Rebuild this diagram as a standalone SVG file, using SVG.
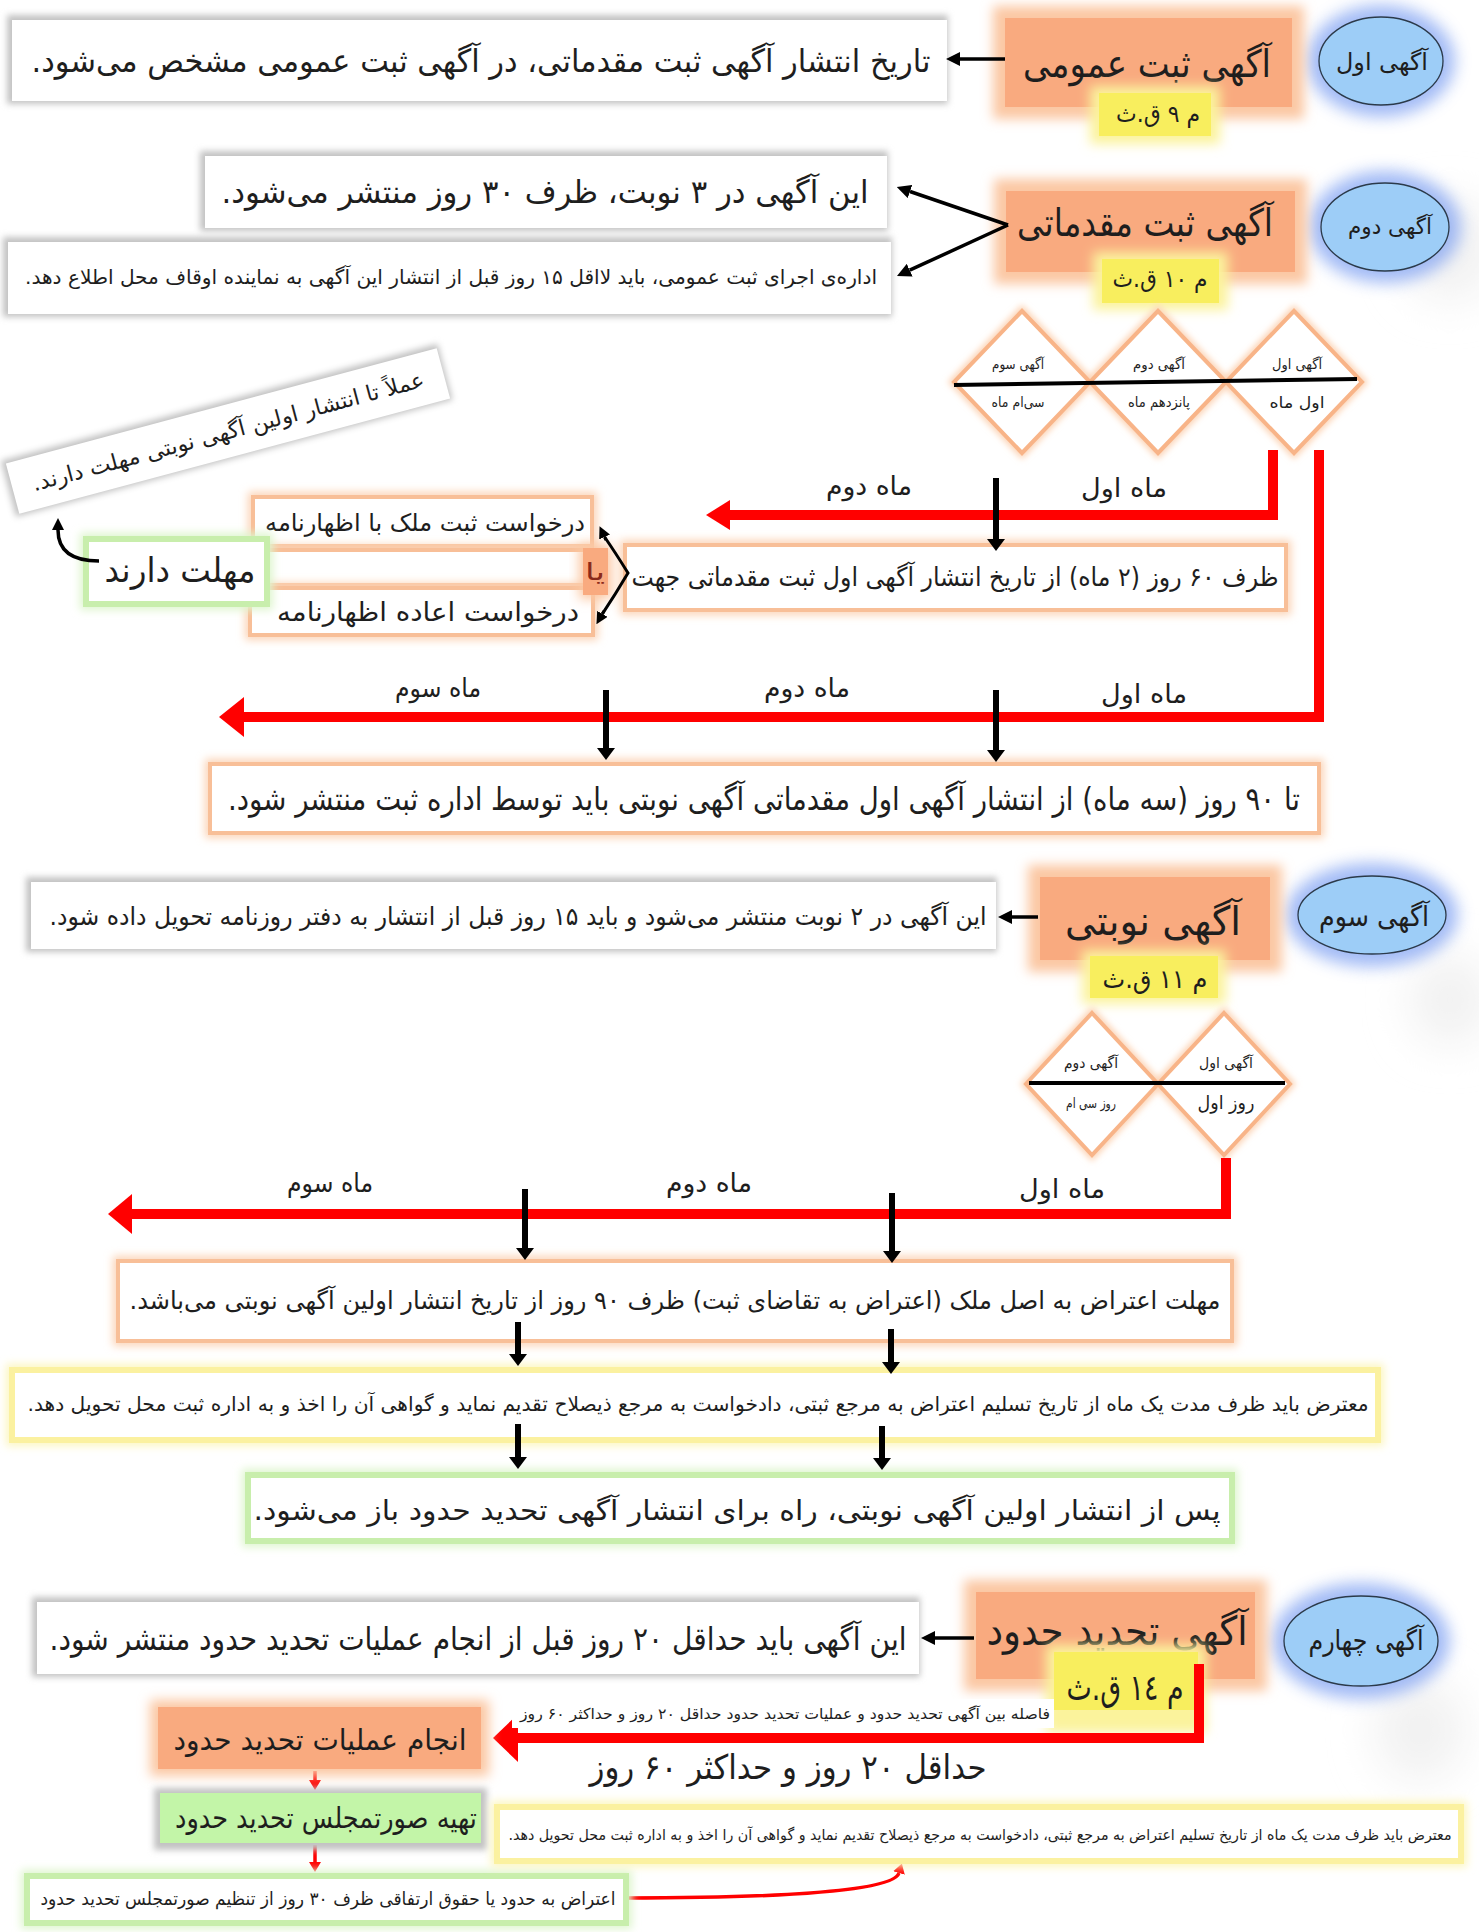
<svg xmlns="http://www.w3.org/2000/svg" width="1479" height="1932" viewBox="0 0 1479 1932">
<defs>
<style>
.t{font-family:"DejaVu Sans",sans-serif;fill:#1e1e1e;text-anchor:middle;direction:rtl;}
.sh{fill:#c2c2c2;filter:url(#b3)}
.wb{fill:#fff}
.ob{fill:#fff;stroke:#f8bf98;stroke-width:4}
.obh{fill:none;stroke:#fbd3b5;stroke-width:10;filter:url(#b4)}
.sal{fill:#f9aa7f}
.salh{fill:#fbc7a3;filter:url(#b6)}
.yl{fill:#f8ee5e}
.ylh{fill:#fbf39c;filter:url(#b6)}
.el{fill:#9dcdf7;stroke:#2b3a4a;stroke-width:1.3}
.elh{fill:#7b9ff2;opacity:.7;filter:url(#b8)}
.yb{fill:#fff;stroke:#fbf1a0;stroke-width:6}
.ybh{fill:none;stroke:#fcf6c0;stroke-width:12;filter:url(#b4)}
.gb{fill:#fff;stroke:#c8eeac;stroke-width:6}
.gbh{fill:none;stroke:#def5cd;stroke-width:12;filter:url(#b4)}
.gf{fill:#c3f5a8}
.red{fill:none;stroke:#ff0000;stroke-width:10;stroke-linejoin:miter}
.rp{fill:#ff0000}
.blk{stroke:#000;stroke-width:3.5;fill:none}
.bk6{stroke:#000;stroke-width:6;fill:none}
.rd3{stroke:#ff0000;stroke-width:3.5;fill:none}
.dm{fill:#fff;stroke:#f8b488;stroke-width:4;stroke-linejoin:miter}
.dmh{fill:none;stroke:#fcd4b6;stroke-width:9;filter:url(#b3)}
.bg{fill:#f1f1f1;filter:url(#b20)}
</style>
<filter id="b3" x="-20%" y="-50%" width="140%" height="200%"><feGaussianBlur stdDeviation="3"/></filter>
<filter id="b4" x="-20%" y="-50%" width="140%" height="200%"><feGaussianBlur stdDeviation="4"/></filter>
<filter id="b6" x="-30%" y="-60%" width="160%" height="220%"><feGaussianBlur stdDeviation="6"/></filter>
<filter id="b8" x="-30%" y="-60%" width="160%" height="220%"><feGaussianBlur stdDeviation="8"/></filter>
<filter id="b20" x="-60%" y="-60%" width="220%" height="220%"><feGaussianBlur stdDeviation="22"/></filter>
<marker id="ab" viewBox="0 0 14 14" refX="0" refY="7" markerWidth="14" markerHeight="14" orient="auto" markerUnits="userSpaceOnUse"><path d="M0,0 L14,7 L0,14 z" fill="#000"/></marker>
<marker id="abs" viewBox="0 0 12 12" refX="0" refY="6" markerWidth="12" markerHeight="12" orient="auto" markerUnits="userSpaceOnUse"><path d="M0,0 L12,6 L0,12 z" fill="#000"/></marker>
<marker id="abd" viewBox="0 0 12 18" refX="0" refY="9" markerWidth="12" markerHeight="18" orient="auto" markerUnits="userSpaceOnUse"><path d="M0,0 L12,9 L0,18 z" fill="#000"/></marker>
<marker id="arr" viewBox="0 0 10 12" refX="0" refY="6" markerWidth="10" markerHeight="12" orient="auto" markerUnits="userSpaceOnUse"><path d="M0,0 L10,6 L0,12 z" fill="#ff0000"/></marker>
</defs>
<rect x="0" y="0" width="1479" height="1932" fill="#fff"/>
<ellipse class="bg" cx="1450" cy="250" rx="45" ry="50"/>
<ellipse class="bg" cx="1450" cy="1000" rx="40" ry="45"/>
<ellipse class="bg" cx="1420" cy="1730" rx="45" ry="50"/>

<!-- Section 1 -->
<g id="n-agahi-aval">
<ellipse class="elh" cx="1381" cy="61" rx="74" ry="56"/>
<ellipse class="el" cx="1381" cy="61" rx="62" ry="44"/>
<text class="t" x="1382" y="70" font-size="24" textLength="92" lengthAdjust="spacingAndGlyphs">آگهی اول</text>
</g>
<g id="n-sabt-omoomi">
<rect class="salh" x="993" y="6" width="311" height="113"/>
<rect class="sal" x="1005" y="18" width="287" height="89"/>
<text class="t" x="1147" y="77" font-size="38" textLength="248" lengthAdjust="spacingAndGlyphs">آگهی ثبت عمومی</text>
</g>
<g id="n-tag-9">
<rect class="ylh" x="1090" y="86" width="130" height="58"/>
<rect class="yl" x="1099" y="93" width="112" height="43"/>
<text class="t" x="1158" y="122" font-size="24" textLength="84" lengthAdjust="spacingAndGlyphs">م ۹ ق.ث</text>
</g>
<g id="n-text-1">
<rect class="sh" x="7" y="15" width="941" height="89"/>
<rect class="wb" x="12" y="20" width="935" height="81"/>
<text class="t" x="481" y="72" font-size="32" textLength="899" lengthAdjust="spacingAndGlyphs">تاریخ انتشار آگهی ثبت مقدماتی، در آگهی ثبت عمومی مشخص می‌شود.</text>
</g>

<!-- Section 2 -->
<g id="n-agahi-dovom">
<ellipse class="elh" cx="1385" cy="227" rx="76" ry="56"/>
<ellipse class="el" cx="1385" cy="227" rx="64" ry="44"/>
<text class="t" x="1390" y="234" font-size="22" textLength="84" lengthAdjust="spacingAndGlyphs">آگهی دوم</text>
</g>
<g id="n-sabt-moghadamati">
<rect class="salh" x="994" y="179" width="313" height="105"/>
<rect class="sal" x="1006" y="191" width="289" height="81"/>
<text class="t" x="1145" y="236" font-size="38" textLength="256" lengthAdjust="spacingAndGlyphs">آگهی ثبت مقدماتی</text>
</g>
<g id="n-tag-10">
<rect class="ylh" x="1093" y="252" width="135" height="58"/>
<rect class="yl" x="1102" y="259" width="117" height="44"/>
<text class="t" x="1160" y="287" font-size="24" textLength="95" lengthAdjust="spacingAndGlyphs">م ۱۰ ق.ث</text>
</g>
<g id="n-text-2a">
<rect class="sh" x="200" y="151" width="688" height="80"/>
<rect class="wb" x="205" y="156" width="682" height="72"/>
<text class="t" x="545" y="203" font-size="32" textLength="647" lengthAdjust="spacingAndGlyphs">این آگهی در ۳ نوبت، ظرف ۳۰ روز منتشر می‌شود.</text>
</g>
<g id="n-text-2b">
<rect class="sh" x="3" y="237" width="889" height="80"/>
<rect class="wb" x="8" y="242" width="883" height="72"/>
<text class="t" x="451" y="284" font-size="20" textLength="852" lengthAdjust="spacingAndGlyphs">اداره‌ی اجرای ثبت عمومی، باید لااقل ۱۵ روز قبل از انتشار این آگهی به نماینده اوقاف محل اطلاع دهد.</text>
</g>

<g id="n-diamonds-1">
<path class="dmh" d="M1294,311 L1362,382 L1294,453 L1226,382 Z M1158,311 L1226,382 L1158,453 L1090,382 Z M1022,311 L1090,382 L1022,453 L954,382 Z"/>
<path class="dm" d="M1294,311 L1362,382 L1294,453 L1226,382 Z"/>
<path class="dm" d="M1158,311 L1226,382 L1158,453 L1090,382 Z"/>
<path class="dm" d="M1022,311 L1090,382 L1022,453 L954,382 Z"/>
<line x1="954" y1="385" x2="1357" y2="379" stroke="#000" stroke-width="4"/>
<text class="t" x="1297" y="369" font-size="14" textLength="50" lengthAdjust="spacingAndGlyphs">آگهی اول</text>
<text class="t" x="1297" y="408" font-size="16" textLength="55" lengthAdjust="spacingAndGlyphs">اول ماه</text>
<text class="t" x="1159" y="369" font-size="14" textLength="52" lengthAdjust="spacingAndGlyphs">آگهی دوم</text>
<text class="t" x="1159" y="407" font-size="14" textLength="62" lengthAdjust="spacingAndGlyphs">پانزدهم ماه</text>
<text class="t" x="1018" y="369" font-size="14" textLength="52" lengthAdjust="spacingAndGlyphs">آگهی سوم</text>
<text class="t" x="1018" y="407" font-size="14" textLength="53" lengthAdjust="spacingAndGlyphs">سی‌ام ماه</text>
</g>

<g id="n-60-rooz">
<rect class="obh" x="625" y="545" width="661" height="65"/>
<rect class="ob" x="625" y="545" width="661" height="65"/>
<text class="t" x="955" y="586" font-size="26" textLength="647" lengthAdjust="spacingAndGlyphs">ظرف ۶۰ روز (۲ ماه) از تاریخ انتشار آگهی اول ثبت مقدماتی جهت</text>
</g>
<g id="n-darkhast-1">
<rect class="obh" x="253" y="497" width="339" height="49"/>
<rect class="ob" x="253" y="497" width="339" height="49"/>
<text class="t" x="425" y="531" font-size="24" textLength="320" lengthAdjust="spacingAndGlyphs">درخواست ثبت ملک با اظهارنامه</text>
</g>
<g id="n-middle-band">
<rect class="obh" x="265" y="550" width="324" height="35"/>
<rect class="ob" x="265" y="550" width="324" height="35"/>
</g>
<g id="n-darkhast-2">
<rect class="obh" x="250" y="588" width="343" height="47"/>
<rect class="ob" x="250" y="588" width="343" height="47"/>
<text class="t" x="428" y="621" font-size="26" textLength="302" lengthAdjust="spacingAndGlyphs">درخواست اعاده اظهارنامه</text>
</g>
<g id="n-ya">
<rect class="salh" x="579" y="544" width="33" height="55"/>
<rect class="sal" x="583" y="548" width="25" height="47"/>
<text class="t" x="595" y="580" font-size="24" style="fill:#8a2a1a" textLength="20" lengthAdjust="spacingAndGlyphs">یا</text>
</g>
<g id="n-mohlat-darand">
<rect class="gbh" x="86" y="539" width="181" height="65"/>
<rect class="gb" x="86" y="539" width="181" height="65"/>
<text class="t" x="180" y="582" font-size="34" textLength="151" lengthAdjust="spacingAndGlyphs">مهلت دارند</text>
</g>
<g id="n-amalan" transform="translate(228 431) rotate(-15)">
<rect class="sh" x="-227" y="-30" width="452" height="58"/>
<rect class="wb" x="-223" y="-26" width="446" height="52"/>
<text class="t" x="0" y="8" font-size="22" textLength="405" lengthAdjust="spacingAndGlyphs">عملاً تا انتشار اولین آگهی نوبتی مهلت دارند.</text>
</g>

<g id="n-90-rooz">
<rect class="obh" x="210" y="764" width="1109" height="69"/>
<rect class="ob" x="210" y="764" width="1109" height="69"/>
<text class="t" x="764" y="810" font-size="32" textLength="1072" lengthAdjust="spacingAndGlyphs">تا ۹۰ روز (سه ماه) از انتشار آگهی اول مقدماتی آگهی نوبتی باید توسط اداره ثبت منتشر شود.</text>
</g>

<!-- Section 3 -->
<g id="n-agahi-sevom">
<ellipse class="elh" cx="1372" cy="915" rx="86" ry="52"/>
<ellipse class="el" cx="1372" cy="915" rx="74" ry="39"/>
<text class="t" x="1374" y="926" font-size="28" textLength="110" lengthAdjust="spacingAndGlyphs">آگهی سوم</text>
</g>
<g id="n-nobati">
<rect class="salh" x="1028" y="865" width="254" height="107"/>
<rect class="sal" x="1040" y="877" width="230" height="83"/>
<text class="t" x="1153" y="935" font-size="40" textLength="176" lengthAdjust="spacingAndGlyphs">آگهی نوبتی</text>
</g>
<g id="n-tag-11">
<rect class="ylh" x="1082" y="950" width="144" height="54"/>
<rect class="yl" x="1090" y="956" width="128" height="42"/>
<text class="t" x="1155" y="988" font-size="26" textLength="105" lengthAdjust="spacingAndGlyphs">م ۱۱ ق.ث</text>
</g>
<g id="n-text-3">
<rect class="sh" x="26" y="877" width="971" height="75"/>
<rect class="wb" x="31" y="882" width="965" height="67"/>
<text class="t" x="518" y="925" font-size="25" textLength="937" lengthAdjust="spacingAndGlyphs">این آگهی در ۲ نوبت منتشر می‌شود و باید ۱۵ روز قبل از انتشار به دفتر روزنامه تحویل داده شود.</text>
</g>
<g id="n-diamonds-2">
<path class="dmh" d="M1224,1013 L1290,1084 L1224,1155 L1158,1084 Z M1092,1013 L1158,1084 L1092,1155 L1026,1084 Z"/>
<path class="dm" d="M1224,1013 L1290,1084 L1224,1155 L1158,1084 Z"/>
<path class="dm" d="M1092,1013 L1158,1084 L1092,1155 L1026,1084 Z"/>
<line x1="1029" y1="1083" x2="1285" y2="1083" stroke="#000" stroke-width="4"/>
<text class="t" x="1226" y="1068" font-size="15" textLength="54" lengthAdjust="spacingAndGlyphs">آگهی اول</text>
<text class="t" x="1226" y="1109" font-size="19" textLength="57" lengthAdjust="spacingAndGlyphs">روز اول</text>
<text class="t" x="1091" y="1068" font-size="15" textLength="54" lengthAdjust="spacingAndGlyphs">آگهی دوم</text>
<text class="t" x="1091" y="1108" font-size="14" textLength="50" lengthAdjust="spacingAndGlyphs">روز سی ام</text>
</g>
<g id="n-mohlat-eteraz">
<rect class="obh" x="118" y="1261" width="1114" height="80"/>
<rect class="ob" x="118" y="1261" width="1114" height="80"/>
<text class="t" x="675" y="1309" font-size="25" textLength="1091" lengthAdjust="spacingAndGlyphs">مهلت اعتراض به اصل ملک (اعتراض به تقاضای ثبت) ظرف ۹۰ روز از تاریخ انتشار اولین آگهی نوبتی می‌باشد.</text>
</g>
<g id="n-moteraz-1">
<rect class="ybh" x="12" y="1370" width="1366" height="70"/>
<rect class="yb" x="12" y="1370" width="1366" height="70"/>
<text class="t" x="698" y="1411" font-size="20" textLength="1341" lengthAdjust="spacingAndGlyphs">معترض باید ظرف مدت یک ماه از تاریخ تسلیم اعتراض به مرجع ثبتی، دادخواست به مرجع ذیصلاح تقدیم نماید و گواهی آن را اخذ و به اداره ثبت محل تحویل دهد.</text>
</g>
<g id="n-pas-az">
<rect class="gbh" x="248" y="1475" width="984" height="66"/>
<rect class="gb" x="248" y="1475" width="984" height="66"/>
<text class="t" x="737" y="1520" font-size="28" textLength="967" lengthAdjust="spacingAndGlyphs">پس از انتشار اولین آگهی نوبتی، راه برای انتشار آگهی تحدید حدود باز می‌شود.</text>
</g>

<!-- Section 4 -->
<g id="n-agahi-chaharom">
<ellipse class="elh" cx="1361" cy="1641" rx="89" ry="58"/>
<ellipse class="el" cx="1361" cy="1641" rx="77" ry="45"/>
<text class="t" x="1366" y="1650" font-size="28" textLength="115" lengthAdjust="spacingAndGlyphs">آگهی چهارم</text>
</g>
<g id="n-tahdid">
<rect class="salh" x="964" y="1580" width="303" height="111"/>
<rect class="sal" x="976" y="1592" width="279" height="87"/>
<text class="t" x="1117" y="1645" font-size="40" textLength="261" lengthAdjust="spacingAndGlyphs">آگهی تحدید حدود</text>
</g>
<g id="n-text-4">
<rect class="sh" x="32" y="1597" width="888" height="80"/>
<rect class="wb" x="37" y="1602" width="882" height="72"/>
<text class="t" x="478" y="1650" font-size="32" textLength="857" lengthAdjust="spacingAndGlyphs">این آگهی باید حداقل ۲۰ روز قبل از انجام عملیات تحدید حدود منتشر شود.</text>
</g>
<g id="n-tag-14">
<rect class="ylh" x="1046" y="1645" width="160" height="88"/>
<rect class="yl" x="1054" y="1652" width="144" height="58"/>
<text class="t" x="1125" y="1700" font-size="36" textLength="117" lengthAdjust="spacingAndGlyphs">م ۱٤ ق.ث</text>
</g>

<g id="connectors">
<line class="blk" x1="1005" y1="59" x2="960" y2="59" marker-end="url(#ab)"/>
<line class="blk" x1="1008" y1="225" x2="910" y2="191.5" marker-end="url(#ab)"/>
<line class="blk" x1="1008" y1="225" x2="909.7" y2="270.2" marker-end="url(#ab)"/>
<path class="red" d="M1273,450 V515 H728"/>
<polygon class="rp" points="706,515 730,500 730,530"/>
<path class="red" d="M1319,450 V717 H240"/>
<polygon class="rp" points="219,717 244,697 244,737"/>
<line class="bk6" x1="996" y1="478" x2="996" y2="539" marker-end="url(#abd)"/>
<line class="bk6" x1="996" y1="690" x2="996" y2="750" marker-end="url(#abd)"/>
<line class="bk6" x1="606" y1="690" x2="606" y2="748" marker-end="url(#abd)"/>
<path class="blk" style="stroke-width:3" d="M604.6,537 Q615,552 628,573 Q615,595 602.4,613.8"/>
<line class="blk" style="stroke-width:3" x1="606" y1="540" x2="604.6" y2="537" marker-end="url(#abs)"/>
<line class="blk" style="stroke-width:3" x1="604" y1="611" x2="602.4" y2="613.8" marker-end="url(#abs)"/>
<path class="blk" d="M99,561 C70,561 58,549 58,530" marker-end="url(#abs)"/>
<line class="blk" x1="1038" y1="917" x2="1012" y2="917" marker-end="url(#ab)"/>
<path class="red" d="M1226,1158 V1214 H128"/>
<polygon class="rp" points="108,1214 132,1194 132,1234"/>
<line class="bk6" x1="892" y1="1193" x2="892" y2="1251" marker-end="url(#abd)"/>
<line class="bk6" x1="525" y1="1189" x2="525" y2="1248" marker-end="url(#abd)"/>
<line class="bk6" x1="518" y1="1322" x2="518" y2="1354" marker-end="url(#abd)"/>
<line class="bk6" x1="891" y1="1329" x2="891" y2="1362" marker-end="url(#abd)"/>
<line class="bk6" x1="518" y1="1424" x2="518" y2="1457" marker-end="url(#abd)"/>
<line class="bk6" x1="882" y1="1426" x2="882" y2="1458" marker-end="url(#abd)"/>
<line class="blk" x1="974" y1="1638" x2="935" y2="1638" marker-end="url(#ab)"/>
<path class="red" d="M1199,1664 V1738 H514"/>
<polygon class="rp" points="493,1738 518,1714 518,1762"/>
<line class="rd3" x1="315" y1="1771" x2="315" y2="1780" marker-end="url(#arr)"/>
<line class="rd3" x1="315" y1="1845" x2="315" y2="1862" marker-end="url(#arr)"/>
<path class="rd3" d="M626,1898 C760,1898 893,1893 899,1873" marker-end="url(#arr)"/>
</g>

<g id="n-fasele-caption">
<rect x="512" y="1699" width="542" height="29" fill="#fff"/>
<text class="t" x="785" y="1719" font-size="15" textLength="530" lengthAdjust="spacingAndGlyphs">فاصله بین آگهی تحدید حدود و عملیات تحدید حدود حداقل ۲۰ روز و حداکثر ۶۰ روز</text>
</g>
<g id="n-hadaghal">
<text class="t" x="788" y="1779" font-size="34" textLength="397" lengthAdjust="spacingAndGlyphs">حداقل ۲۰ روز و حداکثر ۶۰ روز</text>
</g>
<g id="n-anjam-amaliat">
<rect class="salh" x="150" y="1700" width="339" height="76"/>
<rect class="sal" x="158" y="1707" width="323" height="62"/>
<text class="t" x="320" y="1750" font-size="29" textLength="293" lengthAdjust="spacingAndGlyphs">انجام عملیات تحدید حدود</text>
</g>
<g id="n-soratmajles">
<rect class="sh" x="154" y="1788" width="333" height="62"/>
<rect class="gf" x="160" y="1793" width="321" height="50"/>
<text class="t" x="326" y="1828" font-size="29" textLength="302" lengthAdjust="spacingAndGlyphs">تهیه صورتمجلس تحدید حدود</text>
</g>
<g id="n-eteraz-hodood">
<rect class="gbh" x="27" y="1876" width="599" height="47"/>
<rect class="gb" x="27" y="1876" width="599" height="47"/>
<text class="t" x="328" y="1905" font-size="18" textLength="575" lengthAdjust="spacingAndGlyphs">اعتراض به حدود یا حقوق ارتفاقی ظرف ۳۰ روز از تنظیم صورتمجلس تحدید حدود</text>
</g>
<g id="n-moteraz-2">
<rect class="ybh" x="497" y="1807" width="964" height="54"/>
<rect class="yb" x="497" y="1807" width="964" height="54"/>
<text class="t" x="980" y="1840" font-size="15" textLength="943" lengthAdjust="spacingAndGlyphs">معترض باید ظرف مدت یک ماه از تاریخ تسلیم اعتراض به مرجع ثبتی، دادخواست به مرجع ذیصلاح تقدیم نماید و گواهی آن را اخذ و به اداره ثبت محل تحویل دهد.</text>
</g>

<g id="labels">
<text class="t" x="1124" y="497" font-size="26" textLength="86" lengthAdjust="spacingAndGlyphs">ماه اول</text>
<text class="t" x="869" y="495" font-size="26" textLength="86" lengthAdjust="spacingAndGlyphs">ماه دوم</text>
<text class="t" x="1144" y="703" font-size="26" textLength="86" lengthAdjust="spacingAndGlyphs">ماه اول</text>
<text class="t" x="807" y="697" font-size="26" textLength="86" lengthAdjust="spacingAndGlyphs">ماه دوم</text>
<text class="t" x="438" y="697" font-size="26" textLength="86" lengthAdjust="spacingAndGlyphs">ماه سوم</text>
<text class="t" x="1062" y="1198" font-size="26" textLength="86" lengthAdjust="spacingAndGlyphs">ماه اول</text>
<text class="t" x="709" y="1192" font-size="26" textLength="86" lengthAdjust="spacingAndGlyphs">ماه دوم</text>
<text class="t" x="330" y="1192" font-size="26" textLength="86" lengthAdjust="spacingAndGlyphs">ماه سوم</text>
</g>
</svg>
